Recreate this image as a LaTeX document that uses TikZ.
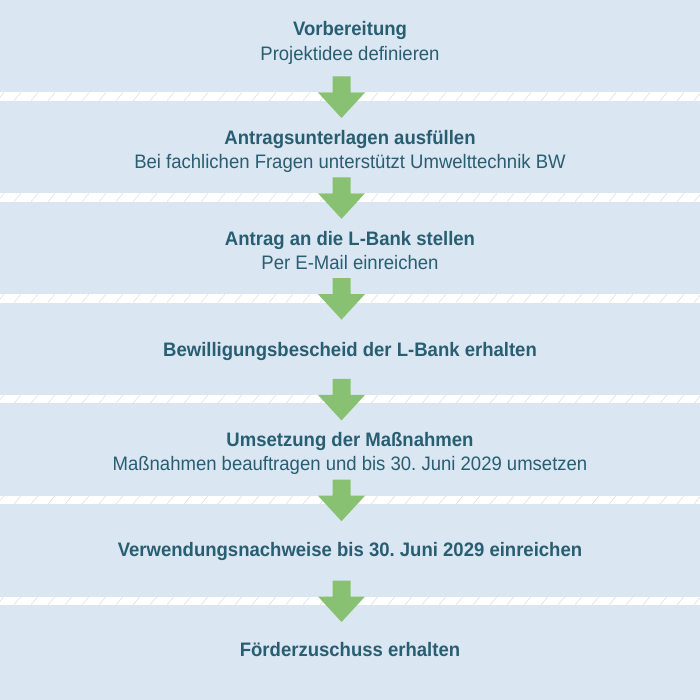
\documentclass[tikz,border=0pt]{standalone}
\usepackage{fontspec}
\setmainfont{Liberation Sans}[FakeStretch=0.95]
\usepackage{tikz}
\usetikzlibrary{calc}
\definecolor{panelblau}{HTML}{DAE6F1}
\definecolor{schrift}{HTML}{285E72}
\definecolor{pfeilgruen}{HTML}{88C171}
\definecolor{schraffur}{HTML}{DCDCDC}
\def\trenner(#1){\fill[white] (0, #1) rectangle (700, #1+8.4);
	\foreach \x in {0,17,...,714} \draw[line width=0.5pt, color=schraffur] (\x-3, #1+8.4) -- (\x+4, #1);}
\def\pfeil(#1){\fill[pfeilgruen] (332.5, #1-16) -- (350.5, #1-16) -- (350.5, #1) -- (365, #1) -- (341.5, #1+25.5) -- (318, #1) -- (332.5, #1) -- cycle;}
\tikzset{
	stufe/.style={anchor=base, inner sep=0pt, color=schrift, font=\bfseries\fontsize{19.5}{23}\selectfont},
	hinweis/.style={anchor=base, inner sep=0pt, color=schrift, font=\fontsize{19.5}{23}\selectfont}
}

\begin{document}
\begin{tikzpicture}[x=1pt, y=-1pt]
			%%%%% START %%%%%
			
			\useasboundingbox (0, 0) rectangle (700, 700);
			\fill[panelblau] (0, 0) rectangle (700, 700);
			
			\trenner(92.5)
			\trenner(193.3)
			\trenner(294.1)
			\trenner(394.9)
			\trenner(495.7)
			\trenner(596.5)
			
			\pfeil(92.5)
			\pfeil(193.3)
			\pfeil(294.1)
			\pfeil(394.9)
			\pfeil(495.7)
			\pfeil(596.5)
			
			\node[stufe] (vorbereitung) at (350, 36) {Vorbereitung};
			\node[hinweis] (projektidee) at (350, 60.7) {Projektidee definieren};
			
			\node[stufe] (antragsunterlagen) at (350, 144.3) {Antragsunterlagen ausfüllen};
			\node[hinweis] (fachfragen) at (350, 168.3) {Bei fachlichen Fragen unterstützt Umwelttechnik BW};
			
			\node[stufe] (antrag) at (350, 245.2) {Antrag an die L-Bank stellen};
			\node[hinweis] (email) at (350, 269.7) {Per E-Mail einreichen};
			
			\node[stufe] (bewilligung) at (350, 356) {Bewilligungsbescheid der L-Bank erhalten};
			
			\node[stufe] (umsetzung) at (350, 446.1) {Umsetzung der Maßnahmen};
			\node[hinweis] (beauftragen) at (350, 470.6) {Maßnahmen beauftragen und bis 30.\ Juni 2029 umsetzen};
			
			\node[stufe] (nachweise) at (350, 556) {Verwendungsnachweise bis 30.\ Juni 2029 einreichen};
			
			\node[stufe] (zuschuss) at (350, 656.7) {Förderzuschuss erhalten};
			
			%%%%% END %%%%%
\end{tikzpicture}
\end{document}
